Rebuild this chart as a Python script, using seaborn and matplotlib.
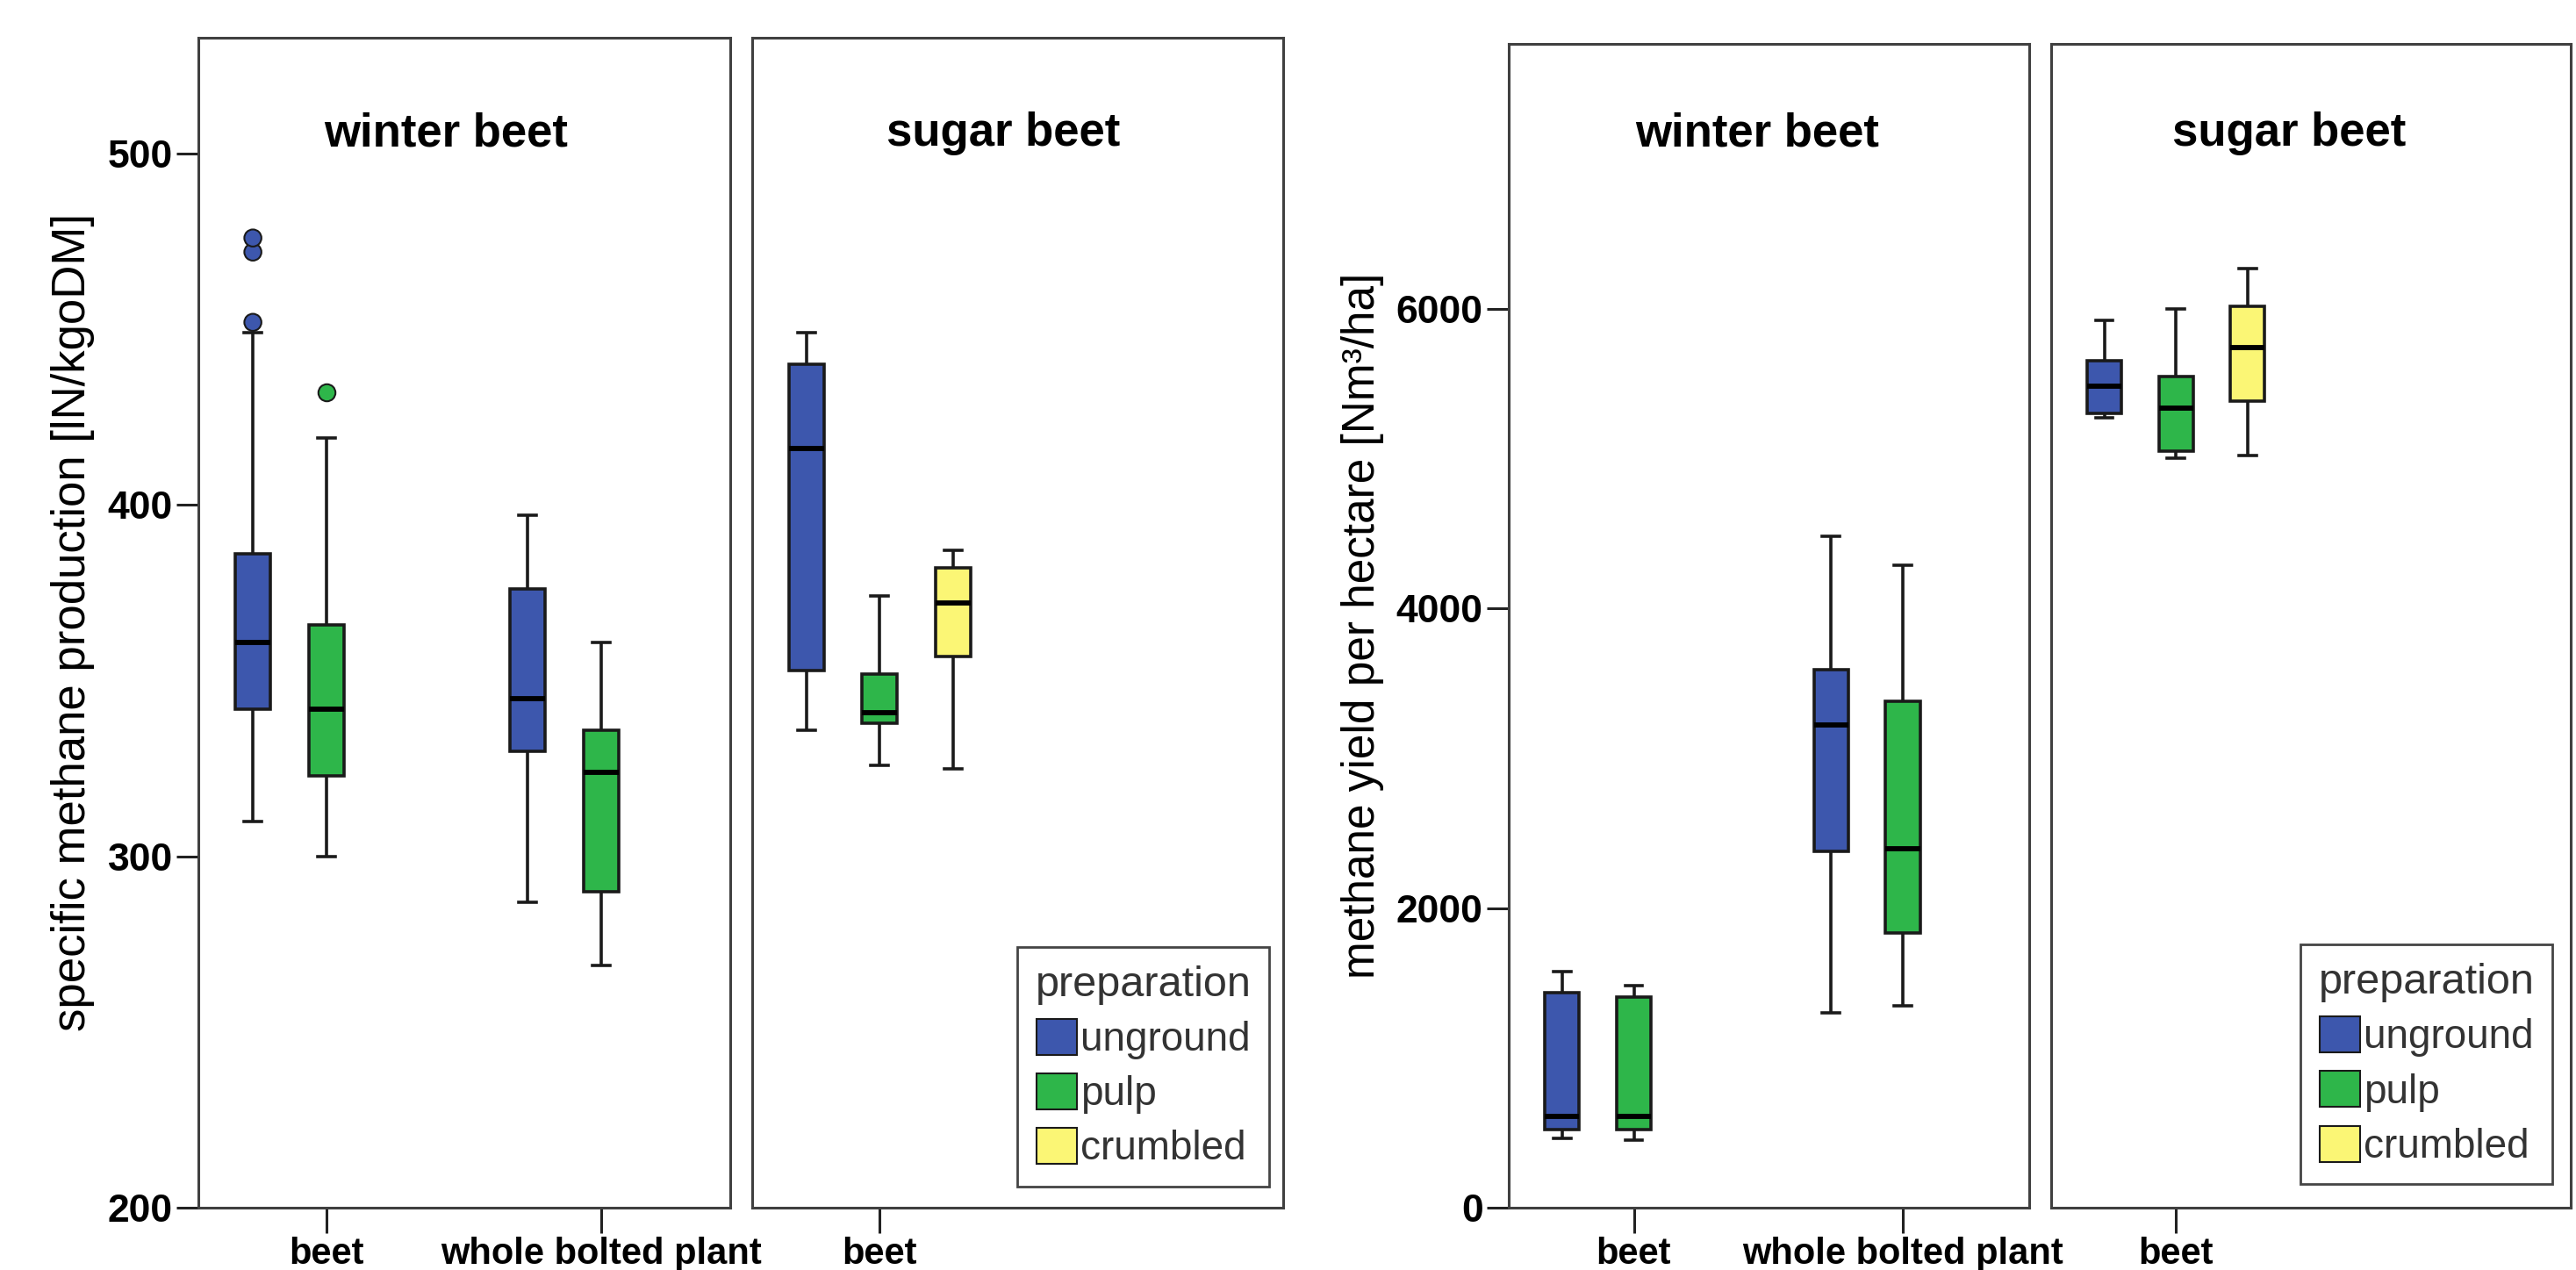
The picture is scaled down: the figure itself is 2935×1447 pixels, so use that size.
import pandas as pd
import seaborn as sns
import matplotlib.pyplot as plt
from matplotlib.patches import Patch

plt.rcParams['font.family'] = ['Liberation Sans', 'DejaVu Sans']

prep_order = ['unground', 'pulp', 'crumbled']
prep_colors = {'unground': '#3d57ad', 'pulp': '#2eb64a', 'crumbled': '#fbf675'}

# five-number summaries read from the boxes: [low whisker, Q1, median, Q3, high whisker]
# specific methane production [lN/kgoDM]
spm_wb_beet_unground = [310, 342, 361, 386, 449]
spm_wb_beet_pulp = [300, 323, 342, 366, 419]
spm_wb_whole_unground = [287, 330, 345, 376, 397]
spm_wb_whole_pulp = [269, 290, 324, 336, 361]
spm_sb_beet_unground = [336, 353, 416, 440, 449]
spm_sb_beet_pulp = [326, 338, 341, 352, 374]
spm_sb_beet_crumbled = [325, 357, 372, 382, 387]
# outliers
spm_wb_beet_unground_out = [452, 472, 476]
spm_wb_beet_pulp_out = [432]

# methane yield per hectare [Nm3/ha]
yld_wb_beet_unground = [461, 520, 607, 1436, 1577]
yld_wb_beet_pulp = [450, 520, 607, 1404, 1480]
yld_wb_whole_unground = [1301, 2379, 3225, 3593, 4482]
yld_wb_whole_pulp = [1350, 1837, 2396, 3382, 4287]
yld_sb_beet_unground = [5274, 5301, 5485, 5653, 5924]
yld_sb_beet_pulp = [5003, 5051, 5339, 5550, 6000]
yld_sb_beet_crumbled = [5024, 5388, 5745, 6016, 6271]

winter_parts = ['beet', 'whole bolted plant']
sugar_parts = ['beet']


def make_df(rows):
    recs = []
    for part, prep, vals in rows:
        for v in vals:
            recs.append({'part': part, 'preparation': prep, 'value': v})
    return pd.DataFrame(recs, columns=['part', 'preparation', 'value'])


spm_winter = make_df([('beet', 'unground', spm_wb_beet_unground),
                      ('beet', 'pulp', spm_wb_beet_pulp),
                      ('whole bolted plant', 'unground', spm_wb_whole_unground),
                      ('whole bolted plant', 'pulp', spm_wb_whole_pulp)])
spm_winter_out = make_df([('beet', 'unground', spm_wb_beet_unground_out),
                          ('beet', 'pulp', spm_wb_beet_pulp_out)])
spm_sugar = make_df([('beet', 'unground', spm_sb_beet_unground),
                     ('beet', 'pulp', spm_sb_beet_pulp),
                     ('beet', 'crumbled', spm_sb_beet_crumbled)])
yld_winter = make_df([('beet', 'unground', yld_wb_beet_unground),
                      ('beet', 'pulp', yld_wb_beet_pulp),
                      ('whole bolted plant', 'unground', yld_wb_whole_unground),
                      ('whole bolted plant', 'pulp', yld_wb_whole_pulp)])
yld_sugar = make_df([('beet', 'unground', yld_sb_beet_unground),
                     ('beet', 'pulp', yld_sb_beet_pulp),
                     ('beet', 'crumbled', yld_sb_beet_crumbled)])

frame_color = '#404040'
narrow = ['Liberation Sans Narrow', 'Liberation Sans', 'DejaVu Sans']


def draw_panel(ax, box_df, order, title, title_x, title_y, out_df=None):
    sns.boxplot(data=box_df, x='part', y='value', hue='preparation', order=order,
                hue_order=prep_order, palette=prep_colors, whis=(0, 100), width=0.8,
                gap=0.52, linewidth=2.6, linecolor='#1a1a1a', saturation=1,
                medianprops=dict(color='black', linewidth=4.2), legend=False, ax=ax)
    if out_df is not None:
        sns.stripplot(data=out_df, x='part', y='value', hue='preparation', order=order,
                      hue_order=prep_order, palette=prep_colors, dodge=True, jitter=False,
                      size=14, edgecolor='#1a1a1a', linewidth=1.5, legend=False, ax=ax)
    ax.set_xlim(-0.465, 1.47)
    ax.set_xlabel('')
    ax.set_ylabel('')
    for s in ax.spines.values():
        s.set_color(frame_color)
        s.set_linewidth(2.2)
    ax.tick_params(axis='x', length=21, width=2.2, color='#222222', labelsize=30, pad=3)
    plt.setp(ax.get_xticklabels(), fontweight='bold')
    ax.text(title_x, title_y, title, transform=ax.transAxes, ha='center', va='center',
            fontsize=38, fontweight='bold')


def style_yaxis(ax, ticks):
    ax.set_yticks(ticks)
    ax.tick_params(axis='y', length=18, width=2.2, color='#222222', labelsize=32, pad=3)
    plt.setp(ax.get_yticklabels(), fontweight='bold', family=narrow)


def add_legend(ax, anchor):
    handles = [Patch(facecolor=prep_colors[p], edgecolor='#1a1a1a', linewidth=1.5, label=p)
               for p in prep_order]
    leg = ax.legend(handles=handles, title='preparation', loc='lower right',
                    bbox_to_anchor=anchor, fontsize=33, title_fontsize=35, frameon=True,
                    fancybox=False, edgecolor='#444444', framealpha=1, handlelength=1.0,
                    handleheight=1.0, handletextpad=0.1, labelspacing=0.35,
                    borderpad=0.45, borderaxespad=0, labelcolor='#333333')
    leg.get_frame().set_linewidth(2)
    leg.get_title().set_color('#333333')


fig = plt.figure(figsize=(29.35, 14.47), dpi=100)
W, H = 2935, 1447

# left chart
bottom = 1 - 1376 / H
ax1 = fig.add_axes([226 / W, bottom, 606 / W, (1376 - 43) / H])
ax2 = fig.add_axes([857 / W, bottom, 605 / W, (1376 - 43) / H], sharey=ax1)
draw_panel(ax1, spm_winter, winter_parts, 'winter beet', 0.465, 0.918, spm_winter_out)
draw_panel(ax2, spm_sugar, sugar_parts, 'sugar beet', 0.473, 0.918)
ax1.set_ylim(200, 533)
style_yaxis(ax1, [200, 300, 400, 500])
ax2.tick_params(axis='y', left=False, labelleft=False)
add_legend(ax2, (0.974, 0.018))
fig.text(83 / W, 1 - 709 / H, 'specific methane production [lN/kgoDM]', rotation=90,
         ha='center', va='center', fontsize=38)

# right chart
ax3 = fig.add_axes([1719 / W, bottom, 593 / W, (1376 - 50) / H])
ax4 = fig.add_axes([2337 / W, bottom, 592 / W, (1376 - 50) / H], sharey=ax3)
draw_panel(ax3, yld_winter, winter_parts, 'winter beet', 0.477, 0.923)
draw_panel(ax4, yld_sugar, sugar_parts, 'sugar beet', 0.458, 0.923)
ax3.set_ylim(0, 7770)
style_yaxis(ax3, [0, 2000, 4000, 6000])
ax4.tick_params(axis='y', left=False, labelleft=False)
add_legend(ax4, (0.965, 0.02))
fig.text(1553 / W, 1 - 713 / H, 'methane yield per hectare [Nm³/ha]', rotation=90,
         ha='center', va='center', fontsize=37)

fig.savefig('out.png', dpi=100, facecolor='white')
